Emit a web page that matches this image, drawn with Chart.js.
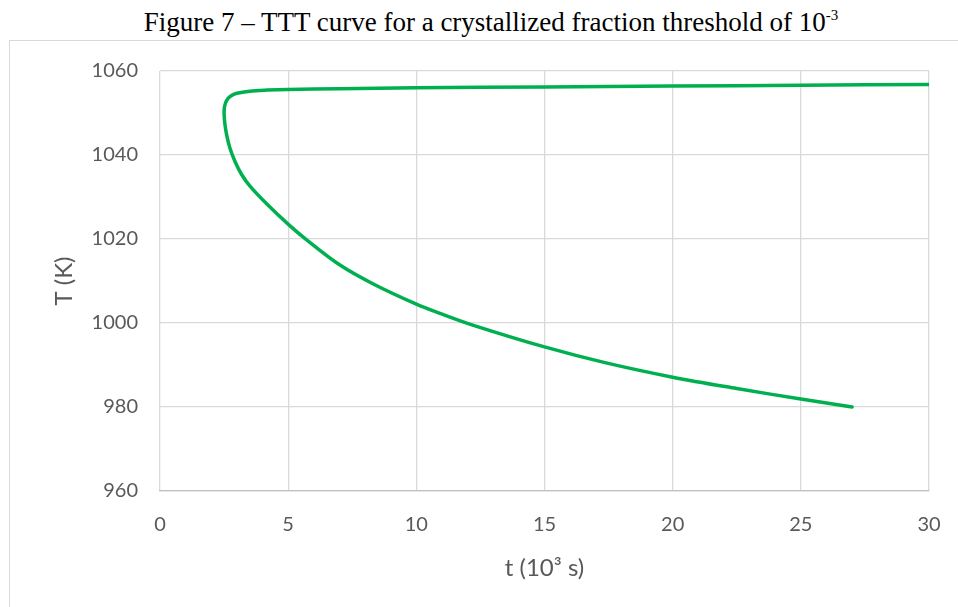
<!DOCTYPE html>
<html>
<head>
<meta charset="utf-8">
<script src="https://cdn.jsdelivr.net/npm/chart.js@4.4.1/dist/chart.umd.min.js"></script>
<style>
  html, body { margin: 0; padding: 0; background: #fff; overflow: hidden; }
  #caption {
    position: absolute; left: 0; top: 7px; width: 982px; text-align: center;
    font-family: "Liberation Serif", "Times New Roman", serif; font-size: 27px;
    color: #000; white-space: nowrap; line-height: 30px;
  }
  #caption sup { font-size: 15px; vertical-align: 11px; line-height: 0; }
  #box {
    position: absolute; left: 9px; top: 40px; width: 960px; height: 580px;
    border-top: 1px solid #d9d9d9; border-left: 1px solid #d9d9d9;
  }
  #wrap { position: absolute; left: 0; top: 0; width: 948px; height: 566px; }
</style>
</head>
<body>
<div id="caption">Figure 7 – TTT curve for a crystallized fraction threshold of 10<sup>-3</sup></div>
<div id="box"><div id="wrap"><canvas id="ttt-chart"></canvas></div></div>
<script>
// TTT curve: time in 10^3 s, temperature in K
const timeValues = [30, 25, 20, 15, 10, 7, 5, 4.2, 3.5, 3.0, 2.75, 2.6, 2.52, 2.5, 2.53, 2.6, 2.73, 2.93,
  3.19, 3.51, 4.16, 5.04, 5.72, 7.02, 8.32, 10.0, 10.92, 12.2, 15.0, 17.4, 20.0, 22.5, 25.0, 27.0];
const tempValues = [1056.8, 1056.6, 1056.4, 1056.2, 1056.0, 1055.8, 1055.6, 1055.45, 1055.2, 1054.7, 1054.0, 1053.0, 1051.6, 1050.0, 1047.5, 1044.8, 1041.6, 1038.4,
  1035.3, 1032.6, 1028.4, 1023.3, 1019.8, 1013.8, 1009.3, 1004.5, 1002.3, 999.5, 994.3, 990.5, 987.1, 984.4, 981.9, 980.0];

const xTicks = [0, 5, 10, 15, 20, 25, 30];
const yTicks = [960, 980, 1000, 1020, 1040, 1060];

const tickColor = '#595959';
const gridColor = '#d9d9d9';
const axisFont = { family: 'Lato, "Open Sans", sans-serif', size: 20 };

const points = timeValues.map((t, i) => ({ x: t, y: tempValues[i] }));

// tick gap comes from an invisible tick mark, so label padding doesn't inflate the plot margins
const gridOpts = { color: gridColor, lineWidth: 1.3, drawTicks: true, tickLength: 19, tickColor: 'transparent' };

new Chart(document.getElementById('ttt-chart').getContext('2d'), {
  type: 'scatter',
  data: { datasets: [{
    label: 'TTT', data: points,
    showLine: true, borderColor: '#00b050', backgroundColor: '#00b050',
    borderWidth: 3.5, pointRadius: 0, pointHoverRadius: 0, tension: 0.35,
    borderCapStyle: 'round', borderJoinStyle: 'round',
  }] },
  options: {
    responsive: true, maintainAspectRatio: false, animation: false,
    layout: { padding: { left: 0, right: 29, top: 30, bottom: 0 } },
    plugins: { legend: { display: false }, tooltip: { enabled: false } },
    scales: {
      x: {
        type: 'linear', min: xTicks[0], max: xTicks[xTicks.length - 1],
        afterBuildTicks: s => { s.ticks = xTicks.map(v => ({ value: v })); },
        afterFit: s => { s.height = 116; },
        grid: gridOpts,
        border: { color: '#bfbfbf', width: 1.3 },
        ticks: { color: tickColor, font: axisFont, padding: 3, maxRotation: 0, callback: v => String(v) },
        title: { display: true, text: 't (10³ s)', color: tickColor,
          font: { family: axisFont.family, size: 24 }, padding: { bottom: 24 } },
      },
      y: {
        type: 'linear', min: yTicks[0], max: yTicks[yTicks.length - 1],
        afterBuildTicks: s => { s.ticks = yTicks.map(v => ({ value: v })); },
        afterFit: s => { s.width = 150; },
        grid: gridOpts,
        border: { display: false },
        ticks: { color: tickColor, font: axisFont, padding: 3, callback: v => String(v) },
        title: { display: true, text: 'T (K)', color: tickColor,
          font: { family: axisFont.family, size: 24 }, padding: { top: 40 } },
      },
    },
  },
});
</script>
</body>
</html>
